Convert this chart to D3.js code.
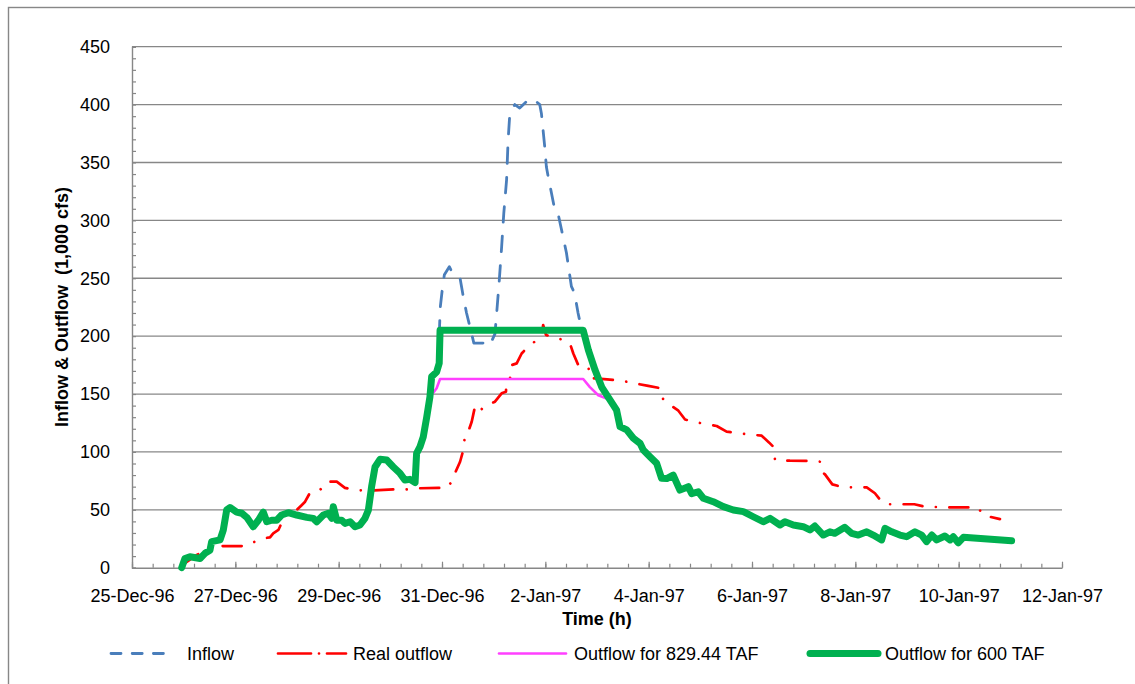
<!DOCTYPE html>
<html>
<head>
<meta charset="utf-8">
<script src="https://cdn.jsdelivr.net/npm/d3@7"></script>
<style>
  html, body { margin: 0; padding: 0; background: #fff; }
  svg { display: block; font-family: "Liberation Sans", Arial, Helvetica, sans-serif; }
</style>
</head>
<body>
<svg id="chart" width="1135" height="684"></svg>
<script>
// Time axis: hours counted from 25-Dec-96 00:00
const xTickHours = [0, 48, 96, 144, 192, 240, 288, 336, 384, 432];
const xTickLabels = ["25-Dec-96", "27-Dec-96", "29-Dec-96", "31-Dec-96", "2-Jan-97",
                     "4-Jan-97", "6-Jan-97", "8-Jan-97", "10-Jan-97", "12-Jan-97"];
const yTicks = [0, 50, 100, 150, 200, 250, 300, 350, 400, 450];

const seriesNames = ["Inflow", "Real outflow", "Outflow for 829.44 TAF", "Outflow for 600 TAF"];

// [hour, flow in 1,000 cfs]
const inflow = [
  [142.7, 200], [143.2, 225], [144.3, 243], [145.1, 253], [147.4, 260], [149.0, 254],
  [152.4, 250], [153.9, 234], [155.4, 220], [157.0, 208], [158.8, 194], [160.8, 194],
  [164.3, 194], [166.2, 192], [168.6, 202], [169.4, 220], [170.6, 248], [171.7, 277],
  [172.7, 306], [174.0, 335], [174.7, 369], [175.5, 392], [177.8, 400], [180.1, 397],
  [184.0, 404], [186.3, 405], [189.4, 400], [190.2, 392], [191.7, 364], [192.5, 346],
  [193.3, 338], [196.3, 310], [197.9, 306], [199.4, 293], [201.8, 272], [204.1, 243],
  [205.6, 237], [207.2, 220], [208.7, 207], [209.6, 200]
];

const realOutflow = [
  [23.7, 2], [24.6, 4], [30.1, 11], [31.6, 12.4], [36.2, 18.7], [52.6, 18.7],
  [57.1, 22.5], [61.0, 25.4], [64.1, 26.2], [65.6, 29.7], [68.0, 32.6], [70.3, 41.8],
  [72.6, 49.8], [76.5, 49.8], [78.8, 54], [80.4, 57], [82.7, 64.8], [87.3, 67],
  [90.4, 74.3], [95.1, 74.3], [98.9, 69], [104.4, 67], [110.5, 66.5], [121.4, 67.7],
  [127.6, 67.7], [133.8, 68.6], [142.3, 69], [146.2, 68.6], [148.5, 74.3], [150.0, 81.5],
  [152.4, 91.5], [153.9, 101.6], [154.7, 114.6], [156.2, 117.5], [157.8, 126], [159.3, 139],
  [160.9, 136], [161.6, 134.7], [163.2, 139], [168.6, 143.4], [171.7, 150.6], [173.7, 152],
  [174.0, 160.6], [175.6, 163.6], [176.4, 175], [178.7, 176.5], [181.0, 185], [182.5, 188],
  [186.7, 194.7], [190.3, 201], [191.0, 209.6], [192.3, 201], [200.3, 196.7], [203.4, 193.8],
  [205.0, 185], [207.3, 175], [212.0, 173.6], [212.7, 163.6], [215.1, 163.6], [224.4, 162],
  [229.8, 160.6], [239.8, 157], [245.6, 155], [246.8, 144.8], [253.8, 135.6], [256.9, 128],
  [262.3, 125.5], [271.6, 122.4], [276.2, 117.5], [282.4, 116], [292.5, 114], [296.0, 108],
  [297.9, 104.5], [298.7, 93], [305.6, 92.4], [317.2, 92.2], [319.6, 91.5], [320.3, 83],
  [321.9, 80.6], [325.3, 72], [330.4, 69.4], [341.3, 69.4], [345.1, 64.3], [348.2, 57],
  [349.8, 54.8], [363.4, 54.8], [368.4, 52.7], [379.2, 52.1], [393.0, 52.1], [394.6, 47.5],
  [396.9, 47], [398.5, 44], [403.2, 42]
];

const outflow829 = [
  [139.5, 150], [141.5, 155], [143.1, 163], [209.6, 163], [212.7, 156],
  [216.6, 149], [220.5, 146], [222.1, 144.8]
];

const outflow600 = [
  [23.1, 0], [24.6, 8], [26.9, 9.5], [31.6, 8], [33.9, 12.4], [36.2, 15], [37.0, 22.5],
  [40.9, 24], [42.4, 32.5], [44.0, 50], [45.5, 52], [48.6, 48], [51.0, 47], [53.3, 43.5],
  [56.3, 35.4], [58.7, 41], [61.0, 48], [62.6, 39.7], [64.9, 41], [67.2, 41], [69.5, 45.5],
  [72.6, 47.5], [76.5, 45.5], [81.2, 43.5], [84.2, 42.6], [85.8, 39.7], [88.9, 45.5],
  [91.2, 47], [92.8, 42.6], [93.5, 52.7], [95.1, 41], [97.4, 41], [98.9, 38.3],
  [101.3, 39.7], [103.6, 35.4], [105.9, 36.9], [108.2, 42.6], [109.8, 49.8], [111.3, 70],
  [112.9, 87], [115.2, 93.6], [118.3, 93], [121.4, 87], [124.5, 81.5], [126.8, 75.7],
  [129.1, 76.3], [131.5, 73.5], [132.2, 98.8], [133.8, 104.5], [135.3, 113], [136.9, 130],
  [138.4, 147.7], [139.2, 165], [141.5, 169], [142.7, 176.5], [143.1, 205], [209.6, 205],
  [212.0, 188], [215.1, 170.7], [218.2, 156], [222.1, 144.8], [225.1, 136], [226.7, 121.8],
  [229.8, 119], [232.9, 111.8], [236.0, 107.4], [237.5, 101.6], [240.6, 95.9], [243.7, 90.2],
  [246.0, 77.2], [248.4, 77], [251.4, 80], [254.5, 67], [258.4, 70], [260.0, 64],
  [263.0, 65.6], [265.4, 60], [270.0, 57], [274.7, 52.7], [279.3, 49.8], [284.0, 48.4],
  [288.6, 44], [293.2, 39.7], [296.4, 42.6], [301.0, 36.9], [303.3, 39.7], [307.2, 36.9],
  [311.8, 35.4], [314.9, 32.6], [317.2, 36], [321.1, 28.2], [324.2, 31], [326.5, 29.7],
  [331.1, 34.9], [334.3, 29.7], [337.4, 28.2], [341.3, 31], [344.3, 28.2], [348.2, 24],
  [349.8, 34], [352.9, 31], [356.7, 28.2], [359.8, 26.8], [363.7, 31], [366.8, 28.2],
  [369.1, 22.5], [371.5, 28.2], [373.8, 24], [377.6, 27.4], [380.0, 24], [381.5, 26.8],
  [383.8, 21.6], [386.2, 26.2], [408.6, 23.3]
];

// ---------------------------------------------------------------------------
const svg = d3.select("#chart");
const W = 1135, H = 684;
const plot = { left: 132, right: 1062, top: 46.7, bottom: 567.7 };
const axisGrey = "#878787";

const x = d3.scaleLinear().domain([0, 432]).range([plot.left, plot.right]);
const y = d3.scaleLinear().domain([0, 450]).range([plot.bottom, plot.top]);

// chart frame
svg.append("rect")
  .attr("x", 8.5).attr("y", 7.5)
  .attr("width", W + 20).attr("height", H + 20)
  .attr("fill", "none").attr("stroke", axisGrey).attr("stroke-width", 1.4);

// horizontal gridlines
svg.append("g").selectAll("line")
  .data(yTicks.filter(d => d > 0))
  .join("line")
  .attr("x1", plot.left).attr("x2", plot.right)
  .attr("y1", d => y(d)).attr("y2", d => y(d))
  .attr("stroke", axisGrey).attr("stroke-width", 1.3);

// y axis: labels
const yAxis = svg.append("g").attr("transform", `translate(${plot.left},0)`)
  .call(d3.axisLeft(y).tickValues(yTicks).tickSize(0).tickPadding(22).tickFormat(d3.format("d")));
yAxis.select(".domain").remove();
yAxis.selectAll("text").attr("font-size", 18).attr("fill", "#000")
  .attr("font-family", "Liberation Sans, Arial, sans-serif");

// y axis: minor ticks (inside) and axis line
svg.append("g").attr("transform", `translate(${plot.left},0)`)
  .call(d3.axisRight(y).tickValues(d3.range(0, 451, 10)).tickSize(4).tickFormat(""))
  .call(g => g.selectAll("line").attr("stroke", axisGrey).attr("stroke-width", 1.2))
  .call(g => g.select(".domain").attr("stroke", axisGrey).attr("stroke-width", 1.4));

// x axis: minor ticks
svg.append("g").attr("transform", `translate(0,${plot.bottom})`)
  .call(d3.axisTop(x).tickValues(d3.range(0, 432.01, 9.6)).tickSize(4).tickFormat(""))
  .call(g => g.select(".domain").remove())
  .call(g => g.selectAll("line").attr("stroke", axisGrey).attr("stroke-width", 1.2));

// x axis: major ticks, labels and axis line
const xAxis = svg.append("g").attr("transform", `translate(0,${plot.bottom})`)
  .call(d3.axisBottom(x).tickValues(xTickHours).tickSizeInner(-6).tickSizeOuter(0)
    .tickPadding(21.5).tickFormat((d, i) => xTickLabels[i]));
xAxis.select(".domain").attr("stroke", axisGrey).attr("stroke-width", 1.4);
xAxis.selectAll("line").attr("stroke", axisGrey).attr("stroke-width", 1.2);
xAxis.selectAll("text").attr("font-size", 18).attr("fill", "#000")
  .attr("font-family", "Liberation Sans, Arial, sans-serif");

// axis titles
svg.append("text")
  .attr("transform", `translate(68,307) rotate(-90)`)
  .attr("text-anchor", "middle").attr("font-size", 18).attr("font-weight", "bold")
  .attr("xml:space", "preserve").style("white-space", "pre")
  .text("Inflow & Outflow  (1,000 cfs)");

svg.append("text")
  .attr("x", (plot.left + plot.right) / 2).attr("y", 625)
  .attr("text-anchor", "middle").attr("font-size", 18).attr("font-weight", "bold")
  .text("Time (h)");

// series
const line = d3.line().x(d => x(d[0])).y(d => y(d[1]));

const styles = [
  { data: inflow,      color: "#4a7ebb", width: 2.8, dash: "15.5,14",            legendDash: "10,11.2" },
  { data: realOutflow, color: "#ff0000", width: 2.7, dash: "19,13.5,0.01,13.5",  legendDash: "33,8,0.01,8" },
  { data: outflow829,  color: "#ff40ff", width: 2.6, dash: null,                 legendDash: null },
  { data: outflow600,  color: "#00b050", width: 7,   dash: null,                 legendDash: null }
];

const seriesG = svg.append("g");
styles.forEach(s => {
  seriesG.append("path")
    .datum(s.data)
    .attr("d", line)
    .attr("fill", "none")
    .attr("stroke", s.color)
    .attr("stroke-width", s.width)
    .attr("stroke-linejoin", "round")
    .attr("stroke-linecap", "round")
    .attr("stroke-dasharray", s.dash);
});

// legend
const legendPos = [
  { x1: 111, x2: 167, tx: 187 },
  { x1: 278, x2: 346, tx: 353 },
  { x1: 499, x2: 566, tx: 574 },
  { x1: 810, x2: 878, tx: 885 }
];
const legendY = 653.5;
const legend = svg.append("g");
seriesNames.forEach((name, i) => {
  const s = styles[i], p = legendPos[i];
  legend.append("line")
    .attr("x1", p.x1).attr("x2", p.x2).attr("y1", legendY).attr("y2", legendY)
    .attr("stroke", s.color).attr("stroke-width", s.width)
    .attr("stroke-linecap", "round")
    .attr("stroke-dasharray", s.legendDash);
  legend.append("text")
    .attr("x", p.tx).attr("y", 660)
    .attr("font-size", 18).attr("fill", "#000")
    .text(name);
});
</script>
</body>
</html>
